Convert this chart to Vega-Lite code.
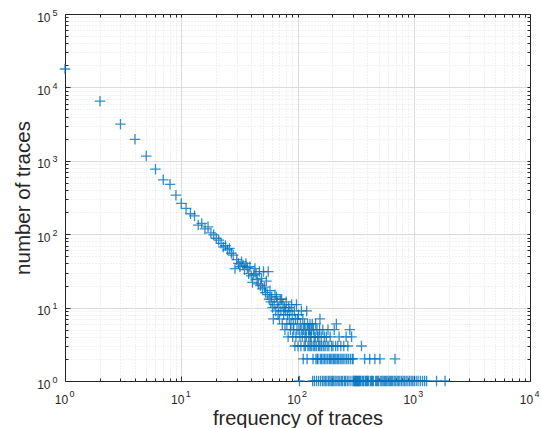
{
  "$schema": "https://vega.github.io/schema/vega-lite/v6.json",
  "width": 465,
  "height": 367,
  "autosize": {"type": "none"},
  "padding": {"left": 65, "top": 14, "right": 11, "bottom": 47},
  "background": "white",
  "config": {"view": {"stroke": null}, "font": "Liberation Sans"},
  "data": {"values": [
    {"f":1,"n":17800},{"f":2,"n":6500},{"f":3,"n":3150},{"f":4,"n":1960},{"f":5,"n":1160},{"f":6,"n":770},{"f":7,"n":550},{"f":8,"n":478},{"f":9,"n":340},{"f":10,"n":263},
    {"f":11,"n":225},{"f":12,"n":190},{"f":13,"n":178},{"f":14,"n":133},{"f":15,"n":140},{"f":16,"n":118},{"f":17,"n":126},{"f":18,"n":104},{"f":19,"n":98},{"f":20,"n":88},
    {"f":21,"n":83},{"f":22,"n":75},{"f":23,"n":67},{"f":24,"n":70},{"f":25,"n":61},{"f":26,"n":64},{"f":27,"n":55},{"f":28,"n":52},{"f":29,"n":34},{"f":30,"n":45},
    {"f":31,"n":40},{"f":32,"n":36},{"f":33,"n":42},{"f":34,"n":38},{"f":35,"n":33},{"f":36,"n":40},{"f":37,"n":35},{"f":38,"n":29},{"f":39,"n":36},{"f":40,"n":27},
    {"f":41,"n":22},{"f":42,"n":28},{"f":43,"n":34},{"f":44,"n":29},{"f":45,"n":24},{"f":46,"n":21},{"f":47,"n":31},{"f":48,"n":20},{"f":49,"n":25},{"f":50,"n":18},
    {"f":51,"n":31},{"f":52,"n":19},{"f":53,"n":16},{"f":54,"n":23},{"f":55,"n":15},{"f":56,"n":31},{"f":57,"n":13},{"f":58,"n":17},{"f":59,"n":12},{"f":60,"n":14},
    {"f":61,"n":10},{"f":62,"n":7},{"f":63,"n":11},{"f":64,"n":15},{"f":65,"n":9},{"f":66,"n":14},{"f":67,"n":12},{"f":68,"n":8},{"f":69,"n":10},{"f":70,"n":7},
    {"f":71,"n":13},{"f":72,"n":9},{"f":73,"n":13},{"f":74,"n":6},{"f":75,"n":11},{"f":76,"n":8},{"f":77,"n":10},{"f":78,"n":5},{"f":79,"n":9},{"f":80,"n":12},
    {"f":81,"n":6},{"f":82,"n":8},{"f":83,"n":4},{"f":84,"n":10},{"f":85,"n":7},{"f":86,"n":9},{"f":87,"n":5},{"f":88,"n":6},{"f":89,"n":11},{"f":90,"n":8},
    {"f":91,"n":4},{"f":92,"n":6},{"f":93,"n":5},{"f":94,"n":9},{"f":95,"n":3},{"f":96,"n":7},{"f":97,"n":4},{"f":98,"n":11},{"f":99,"n":5},{"f":100,"n":7},
    {"f":101,"n":3},{"f":102,"n":8},{"f":103,"n":5},{"f":104,"n":1},{"f":105,"n":4},{"f":106,"n":6},{"f":107,"n":3},{"f":108,"n":9},{"f":109,"n":5},{"f":110,"n":4},
    {"f":111,"n":7},{"f":112,"n":2},{"f":113,"n":5},{"f":114,"n":3},{"f":115,"n":6},{"f":116,"n":4},{"f":117,"n":3},{"f":118,"n":5},{"f":119,"n":4},{"f":120,"n":9},
    {"f":121,"n":2},{"f":122,"n":6},{"f":123,"n":3},{"f":124,"n":5},{"f":125,"n":4},{"f":126,"n":3},{"f":127,"n":5},{"f":128,"n":6},{"f":129,"n":4},{"f":130,"n":3},
    {"f":131,"n":4},{"f":132,"n":5},{"f":133,"n":3},{"f":134,"n":6},{"f":135,"n":1},{"f":136,"n":2},{"f":137,"n":5},{"f":138,"n":3},{"f":139,"n":4},{"f":140,"n":1},
    {"f":141,"n":3},{"f":142,"n":4},{"f":143,"n":6},{"f":144,"n":2},{"f":145,"n":3},{"f":146,"n":1},{"f":147,"n":5},{"f":148,"n":2},{"f":149,"n":4},{"f":150,"n":2},
    {"f":151,"n":3},{"f":152,"n":1},{"f":153,"n":4},{"f":154,"n":3},{"f":155,"n":5},{"f":156,"n":7},{"f":157,"n":2},{"f":158,"n":1},{"f":159,"n":3},{"f":160,"n":4},
    {"f":161,"n":2},{"f":162,"n":3},{"f":164,"n":1},{"f":165,"n":5},{"f":166,"n":2},{"f":168,"n":3},{"f":169,"n":1},{"f":170,"n":4},{"f":171,"n":2},{"f":173,"n":3},
    {"f":174,"n":1},{"f":176,"n":2},{"f":177,"n":4},{"f":179,"n":1},{"f":180,"n":3},{"f":182,"n":2},{"f":183,"n":5},{"f":185,"n":1},{"f":186,"n":3},{"f":188,"n":2},
    {"f":190,"n":1},{"f":191,"n":4},{"f":193,"n":2},{"f":195,"n":1},{"f":196,"n":3},{"f":198,"n":2},{"f":200,"n":1},{"f":202,"n":3},{"f":204,"n":2},{"f":205,"n":1},
    {"f":207,"n":5},{"f":209,"n":2},{"f":211,"n":1},{"f":213,"n":3},{"f":214,"n":2},{"f":216,"n":6},{"f":218,"n":1},{"f":220,"n":2},{"f":222,"n":3},{"f":224,"n":1},
    {"f":226,"n":2},{"f":228,"n":4},{"f":231,"n":1},{"f":233,"n":2},{"f":236,"n":3},{"f":238,"n":1},{"f":241,"n":2},{"f":244,"n":1},{"f":247,"n":2},{"f":250,"n":3},
    {"f":253,"n":1},{"f":256,"n":2},{"f":259,"n":1},{"f":262,"n":4},{"f":265,"n":2},{"f":268,"n":1},{"f":271,"n":3},{"f":274,"n":2},{"f":277,"n":1},{"f":282,"n":5},
    {"f":285,"n":2},{"f":288,"n":1},{"f":292,"n":4},{"f":296,"n":2},{"f":300,"n":1},{"f":301,"n":2},{"f":305,"n":1},{"f":310,"n":1},{"f":314,"n":1},{"f":318,"n":1},
    {"f":322,"n":1},{"f":327,"n":1},{"f":331,"n":1},{"f":336,"n":1},{"f":340,"n":1},{"f":345,"n":1},{"f":350,"n":1},{"f":355,"n":3},{"f":360,"n":1},{"f":366,"n":1},
    {"f":372,"n":1},{"f":378,"n":2},{"f":384,"n":1},{"f":390,"n":1},{"f":396,"n":1},{"f":402,"n":1},{"f":410,"n":1},{"f":418,"n":2},{"f":425,"n":1},{"f":433,"n":1},
    {"f":441,"n":1},{"f":450,"n":1},{"f":463,"n":2},{"f":470,"n":1},{"f":480,"n":1},{"f":490,"n":1},{"f":500,"n":1},{"f":512,"n":2},{"f":520,"n":1},{"f":532,"n":1},
    {"f":545,"n":1},{"f":558,"n":1},{"f":570,"n":1},{"f":585,"n":1},{"f":600,"n":1},{"f":615,"n":1},{"f":630,"n":1},{"f":645,"n":1},{"f":660,"n":1},{"f":680,"n":1},
    {"f":690,"n":2},{"f":700,"n":1},{"f":720,"n":1},{"f":740,"n":1},{"f":760,"n":1},{"f":785,"n":1},{"f":810,"n":1},{"f":835,"n":1},{"f":860,"n":1},{"f":890,"n":1},
    {"f":920,"n":1},{"f":950,"n":1},{"f":980,"n":1},{"f":1010,"n":1},{"f":1050,"n":1},{"f":1090,"n":1},{"f":1140,"n":1},{"f":1190,"n":1},{"f":1240,"n":1},{"f":1290,"n":1},
    {"f":1570,"n":1},{"f":1860,"n":1}
  ]},
  "layer": [
    {
      "mark": {"type": "point", "shape": "M-1,0L1,0M0,-1L0,1", "filled": false, "stroke": "#0072BD", "strokeWidth": 1.3, "size": 110, "opacity": 0.8},
      "encoding": {
        "x": {
          "field": "f", "type": "quantitative",
          "scale": {"type": "log", "domain": [1, 10000], "nice": false},
          "axis": {
            "orient": "bottom",
            "values": [1,2,3,4,5,6,7,8,9,10,20,30,40,50,60,70,80,90,100,200,300,400,500,600,700,800,900,1000,2000,3000,4000,5000,6000,7000,8000,9000,10000],
            "labelExpr": "abs(log(datum.value)/LN10 - round(log(datum.value)/LN10)) < 0.001 ? '10' : ''",
            "labelFont": "Liberation Sans", "labelFontSize": 12, "labelColor": "#262626",
            "labelPadding": 18.5, "labelOffset": -4, "labelFlush": false, "labelOverlap": false, "labelBaseline": "top",
            "domainColor": "#262626", "domainWidth": 1,
            "tickColor": "#262626", "tickWidth": 1,
            "tickSize": {"condition": {"test": "abs(log(datum.value)/LN10 - round(log(datum.value)/LN10)) < 0.001", "value": -5}, "value": -3},
            "grid": true,
            "gridColor": {"condition": {"test": "abs(log(datum.value)/LN10 - round(log(datum.value)/LN10)) < 0.001", "value": "#dcdcdc"}, "value": "#e2e2e2"},
            "gridDash": {"condition": {"test": "abs(log(datum.value)/LN10 - round(log(datum.value)/LN10)) < 0.001", "value": []}, "value": [1, 2]},
            "gridWidth": 1,
            "title": "frequency of traces", "titleFont": "Liberation Sans", "titleFontSize": 20, "titleFontWeight": "normal", "titleColor": "#262626",
            "titleBaseline": "alphabetic", "titleY": 43.5
          }
        },
        "y": {
          "field": "n", "type": "quantitative",
          "scale": {"type": "log", "domain": [1, 100000], "nice": false},
          "axis": {
            "orient": "left",
            "values": [1,2,3,4,5,6,7,8,9,10,20,30,40,50,60,70,80,90,100,200,300,400,500,600,700,800,900,1000,2000,3000,4000,5000,6000,7000,8000,9000,10000,20000,30000,40000,50000,60000,70000,80000,90000,100000],
            "labelExpr": "abs(log(datum.value)/LN10 - round(log(datum.value)/LN10)) < 0.001 ? '10' : ''",
            "labelFont": "Liberation Sans", "labelFontSize": 12, "labelColor": "#262626",
            "labelPadding": 20, "labelFlush": false, "labelOverlap": false, "labelBaseline": "middle", "labelOffset": 3,
            "domainColor": "#262626", "domainWidth": 1,
            "tickColor": "#262626", "tickWidth": 1,
            "tickSize": {"condition": {"test": "abs(log(datum.value)/LN10 - round(log(datum.value)/LN10)) < 0.001", "value": -5}, "value": -3},
            "grid": true,
            "gridColor": {"condition": {"test": "abs(log(datum.value)/LN10 - round(log(datum.value)/LN10)) < 0.001", "value": "#dcdcdc"}, "value": "#e2e2e2"},
            "gridDash": {"condition": {"test": "abs(log(datum.value)/LN10 - round(log(datum.value)/LN10)) < 0.001", "value": []}, "value": [1, 2]},
            "gridWidth": 1,
            "title": "number of traces", "titleFont": "Liberation Sans", "titleFontSize": 20.5, "titleFontWeight": "normal", "titleColor": "#262626",
            "titleBaseline": "alphabetic", "titleX": -36
          }
        }
      }
    },
    {
      "mark": {"type": "point", "opacity": 0},
      "encoding": {
        "x": {
          "field": "f", "type": "quantitative",
          "scale": {"type": "log", "domain": [1, 10000], "nice": false},
          "axis": {
            "orient": "top", "labels": false, "grid": false, "title": null,
            "values": [1,2,3,4,5,6,7,8,9,10,20,30,40,50,60,70,80,90,100,200,300,400,500,600,700,800,900,1000,2000,3000,4000,5000,6000,7000,8000,9000,10000],
            "domainColor": "#262626", "tickColor": "#262626", "tickSize": -3
          }
        },
        "y": {
          "field": "n", "type": "quantitative",
          "scale": {"type": "log", "domain": [1, 100000], "nice": false},
          "axis": {
            "orient": "right", "labels": false, "grid": false, "title": null,
            "values": [1,2,3,4,5,6,7,8,9,10,20,30,40,50,60,70,80,90,100,200,300,400,500,600,700,800,900,1000,2000,3000,4000,5000,6000,7000,8000,9000,10000,20000,30000,40000,50000,60000,70000,80000,90000,100000],
            "domainColor": "#262626", "tickColor": "#262626", "tickSize": -3
          }
        }
      }
    },
    {
      "mark": {"type": "point", "opacity": 0},
      "encoding": {
        "x": {
          "field": "f", "type": "quantitative",
          "scale": {"type": "log", "domain": [1, 10000], "nice": false},
          "axis": {
            "orient": "bottom", "grid": false, "title": null, "domain": false, "ticks": false,
            "values": [1,10,100,1000,10000],
            "labelExpr": "'' + round(log(datum.value)/LN10)",
            "labelFont": "Liberation Sans", "labelFontSize": 9, "labelColor": "#262626",
            "labelPadding": 8.5, "labelOffset": 6.5, "labelFlush": false, "labelOverlap": false, "labelBaseline": "top"
          }
        },
        "y": {
          "field": "n", "type": "quantitative",
          "scale": {"type": "log", "domain": [1, 100000], "nice": false},
          "axis": {
            "orient": "left", "grid": false, "title": null, "domain": false, "ticks": false,
            "values": [1,10,100,1000,10000,100000],
            "labelExpr": "'' + round(log(datum.value)/LN10)",
            "labelFont": "Liberation Sans", "labelFontSize": 9, "labelColor": "#262626",
            "labelPadding": 8, "labelOffset": -2, "labelFlush": false, "labelOverlap": false, "labelBaseline": "middle"
          }
        }
      }
    }
  ],
  "resolve": {"axis": {"x": "independent", "y": "independent"}}
}
